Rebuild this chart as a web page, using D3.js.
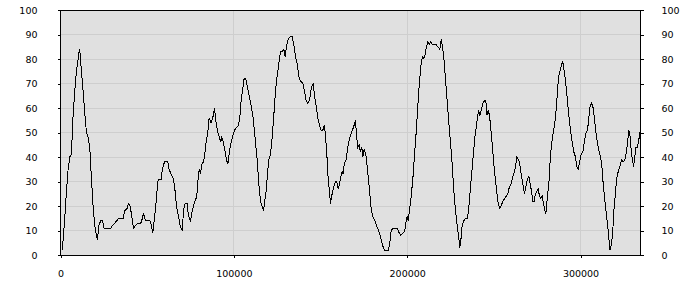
<!DOCTYPE html>
<html>
<head>
<meta charset="utf-8">
<script src="https://cdn.jsdelivr.net/npm/d3@7"></script>
<style>
  body { margin: 0; background: #fff; }
  svg text { font-family: "DejaVu Sans", Verdana, sans-serif; font-size: 9.5px; fill: #000; }
</style>
</head>
<body>
<div id="chart"></div>
<script>
// x positions of the series (sample index) and values
const xValues = [900,1500,2460,3420,4390,5350,6310,6690,7270,8230,9190,10160,10930,11310,12080,13040,14000,14960,15930,16890,17850,18810,19770,20730,21310,22080,23230,24200,25160,26500,29000,29960,31310,32470,33620,36120,37080,38430,39200,40160,41310,42080,43240,44780,46310,47270,47850,49010,51510,52470,53240,54010,54970,56120,
  56890,58050,58810,59970,61890,62660,63820,65160,66120,66890,68050,69010,70160,71120,71890,73050,73820,74970,75740,76700,77660,78630,79590,80160,80740,81510,82470,83050,84010,84970,85740,86320,86890,87860,88820,89780,90740,91700,92470,93050,94010,94970,95740,96510,97280,98050,99200,100360,101510,102670,103430,104210,104970,105940,106900,107670,108820,109980,110940,112090,
  113440,114400,115360,116320,117090,117860,118630,119400,120170,121130,122090,123060,124020,124980,125940,126900,127860,128830,129590,130360,131330,132290,133630,134600,135560,136520,137480,138440,139790,140750,141710,142480,143630,144410,145170,145750,146520,147480,148440,149400,150370,151330,152290,153060,153830,154410,155170,155750,156710,157680,158640,159410,160180,160940,161720,162480,163060,163640,164790,165950,166910,167870,
  168440,169400,170170,170750,171520,172290,173060,173830,174410,175180,176140,177100,178060,179030,179980,181330,182290,183450,184800,185750,186910,189210,189990,190760,191910,194410,195370,196340,197680,198640,199220,199990,200570,201330,202300,203260,204220,205180,206140,207100,208070,208830,209610,210370,211140,211920,212680,213450,214600,216530,217680,218840,219610,220370,221340,222300,223260,224030,
  224990,225950,226920,227870,228840,229800,230380,230960,231720,232690,233650,234610,235380,236340,237300,238260,239220,240190,241150,241920,242690,243650,244610,245380,245960,246730,247500,248460,249420,250380,251340,252310,253260,254230,255190,256150,257110,258070,259030,260000,260960,261920,262690,263270,264040,264800,265770,266730,267690,268460,269420,270190,270960,271730,272500,273260,274030,274810,275570,276340,277110,277880,278650,279420,280000,
  280770,281730,282500,283270,284230,285190,286160,286920,287690,288460,289230,289810,290380,291350,292310,293270,294230,295190,296160,297110,297880,298650,299420,300380,301350,302310,303270,304040,304810,305580,306350,307310,308270,309230,310190,311160,312120,313080,314040,315000,315970,316550,316930,317700,318470,319240,320000,320770,321730,322690,323660,324620,325580,326540,327110,327890,328650,329420,330190,330570,331150,331920,332690,333450,334220,334600];
const yValues = [2,6,15,26,35,40,41,48,57,67,75,80,84,82,75,67,58,50,48,44,31,20,12,8,6,12,14,14,11,11,11,12,13,14,15,15,18,19,21,20,15,11,12,13,13,15,17,14,14,12,9,14,20,30,
  31,31,35,38,38,35,33,31,26,20,16,12,10,19,21,21,16,14,17,20,22,24,33,35,33,37,38,40,46,50,56,55,54,56,60,54,50,48,46,48,46,42,39,37,41,45,48,51,52,53,56,63,67,72,72,69,65,61,57,49,
  39,29,22,20,18,22,26,33,39,41,48,57,67,73,78,83,83,84,81,85,88,89,89,86,81,78,73,71,70,67,63,62,63,67,69,70,65,61,56,53,51,51,53,47,39,31,26,21,25,28,30,30,27,29,32,34,33,37,39,45,48,50,
  51,53,55,49,44,45,42,44,40,43,41,35,28,20,16,14,12,10,7,4,2,2,5,10,11,11,9,8,9,10,13,16,14,18,24,31,41,50,61,71,78,81,80,82,85,87,86,87,86,86,85,84,88,85,79,70,61,54,
  46,37,26,18,12,7,3,6,12,14,15,15,18,26,34,42,49,54,59,57,59,62,63,63,57,59,57,50,42,34,28,22,19,20,22,23,24,25,28,29,32,34,37,40,39,38,33,29,25,28,31,32,29,26,22,22,25,26,27,24,23,24,21,18,17,
  23,29,39,45,50,54,61,69,74,76,78,79,76,71,64,57,51,46,42,40,36,35,38,41,42,47,50,51,56,61,62,60,54,48,44,41,38,29,22,16,10,5,2,4,8,18,24,31,34,36,39,38,39,42,46,51,48,41,38,36,39,44,44,46,50,50];
const xTicks = [0, 100000, 200000, 300000];
const yTicks = [0, 10, 20, 30, 40, 50, 60, 70, 80, 90, 100];

const width = 700, height = 300;
const margin = { top: 10, right: 60, bottom: 45, left: 60.5 };
const innerW = 640.5 - margin.left;
const innerH = 255 - margin.top;

const svg = d3.select('#chart').append('svg')
  .attr('width', width).attr('height', height);

const x = d3.scaleLinear().domain([0, 334600]).range([margin.left, margin.left + innerW]);
const y = d3.scaleLinear().domain([0, 100]).range([255, margin.top]);

// plot background
svg.append('rect')
  .attr('x', margin.left).attr('y', margin.top)
  .attr('width', innerW).attr('height', innerH)
  .attr('fill', '#e0e0e0');

// grid
const grid = svg.append('g').attr('stroke', '#cecece').attr('shape-rendering', 'crispEdges');
grid.selectAll('.gy').data(yTicks.slice(1, -1)).join('line')
  .attr('x1', margin.left).attr('x2', margin.left + innerW)
  .attr('y1', d => y(d)).attr('y2', d => y(d));
grid.selectAll('.gx').data(xTicks.slice(1)).join('line')
  .attr('x1', d => x(d)).attr('x2', d => x(d))
  .attr('y1', margin.top).attr('y2', 255);

// series line (aliased, like the original)
const points = xValues.map((v, i) => [v, yValues[i]]);
svg.append('path')
  .datum(points)
  .attr('fill', 'none')
  .attr('stroke', '#000')
  .attr('stroke-width', 1)
  .attr('shape-rendering', 'crispEdges')
  .attr('d', d3.line().x(d => x(d[0])).y(d => y(d[1])));

// axes
const axisLeft = d3.axisLeft(y).tickValues(yTicks).tickSize(3).tickPadding(20);
const axisRight = d3.axisRight(y).tickValues(yTicks).tickSize(3).tickPadding(18);
const axisBottom = d3.axisBottom(x).tickValues(xTicks).tickSize(3).tickPadding(12).tickFormat(d3.format('d'));

function styleAxis(g) {
  g.select('.domain').remove();
  g.selectAll('line').attr('stroke', '#000').attr('shape-rendering', 'crispEdges');
  g.selectAll('text').attr('font-family', null).attr('font-size', null);
}

svg.append('g').attr('transform', `translate(${margin.left},0)`).call(axisLeft).call(styleAxis);
svg.append('g').attr('transform', `translate(${margin.left + innerW},0)`).call(axisRight).call(styleAxis);
svg.append('g').attr('transform', 'translate(0,255)').call(axisBottom).call(styleAxis);

// frame
svg.append('rect')
  .attr('x', margin.left).attr('y', margin.top)
  .attr('width', innerW).attr('height', innerH)
  .attr('fill', 'none').attr('stroke', '#000')
  .attr('shape-rendering', 'crispEdges');
</script>
</body>
</html>
